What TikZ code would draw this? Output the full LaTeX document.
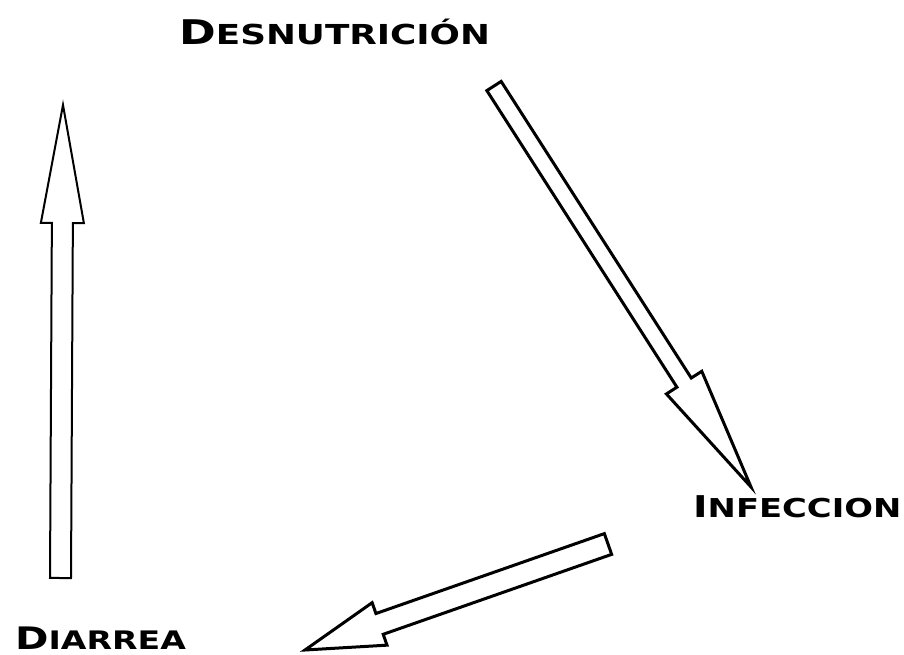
\documentclass[tikz,border=0pt]{standalone}
\usepackage{fontspec}
\usepackage{tikz}
\usetikzlibrary{calc}
\newfontfamily\labelfont[FakeStretch=1.3]{DejaVu Sans}

% first letter large, the rest in small capitals
\newcommand{\capword}[4]{{\fontsize{#1}{#1}\selectfont #3}{\fontsize{#2}{#2}\selectfont #4}}

% hollow block arrow: [options]{tail}{tip}{shaft half width}{head half width}{head length}
\newcommand{\hollowarrow}[6][]{%
  \coordinate (hb) at ($(#3)!#6!(#2)$);
  \draw[line join=miter, #1]
    ($(#2)!#4!90:(#3)$) -- ($(hb)!#4!90:(#3)$) -- ($(hb)!#5!90:(#3)$) -- (#3)
    -- ($(hb)!#5!-90:(#3)$) -- ($(hb)!#4!-90:(#3)$) -- ($(#2)!#4!-90:(#3)$) -- cycle;
}

\begin{document}
\begin{tikzpicture}[x=1pt, y=-1pt]
  \useasboundingbox (0,0) rectangle (904,655);

  \node[font=\labelfont\bfseries, anchor=base west, inner sep=0] (desn) at (179,45) {\capword{34pt}{27.5pt}{D}{ESNUTRICIÓN}};
  \node[font=\labelfont\bfseries, anchor=base west, inner sep=0] (infec) at (693,517) {\capword{30pt}{26pt}{I}{NFECCION}};
  \node[font=\labelfont\bfseries, anchor=base west, inner sep=0] (diarr) at (15,649) {\capword{31pt}{25.5pt}{D}{IARREA}};

  \coordinate (desnTail) at (494,86);
  \coordinate (infecTip) at (751,487);
  \coordinate (infecTail) at (608,544);
  \coordinate (diarrTip) at (305,650);
  \coordinate (diarrTail) at (60.5,578);
  \coordinate (desnTip) at (63,105);

  \hollowarrow[line width=3pt]{desnTail}{infecTip}{8.5pt}{21pt}{124pt}
  \hollowarrow[line width=3pt]{infecTail}{diarrTip}{11pt}{22.5pt}{79pt}
  \hollowarrow[line width=2pt]{diarrTail}{desnTip}{10.5pt}{21.5pt}{118pt}
\end{tikzpicture}
\end{document}
